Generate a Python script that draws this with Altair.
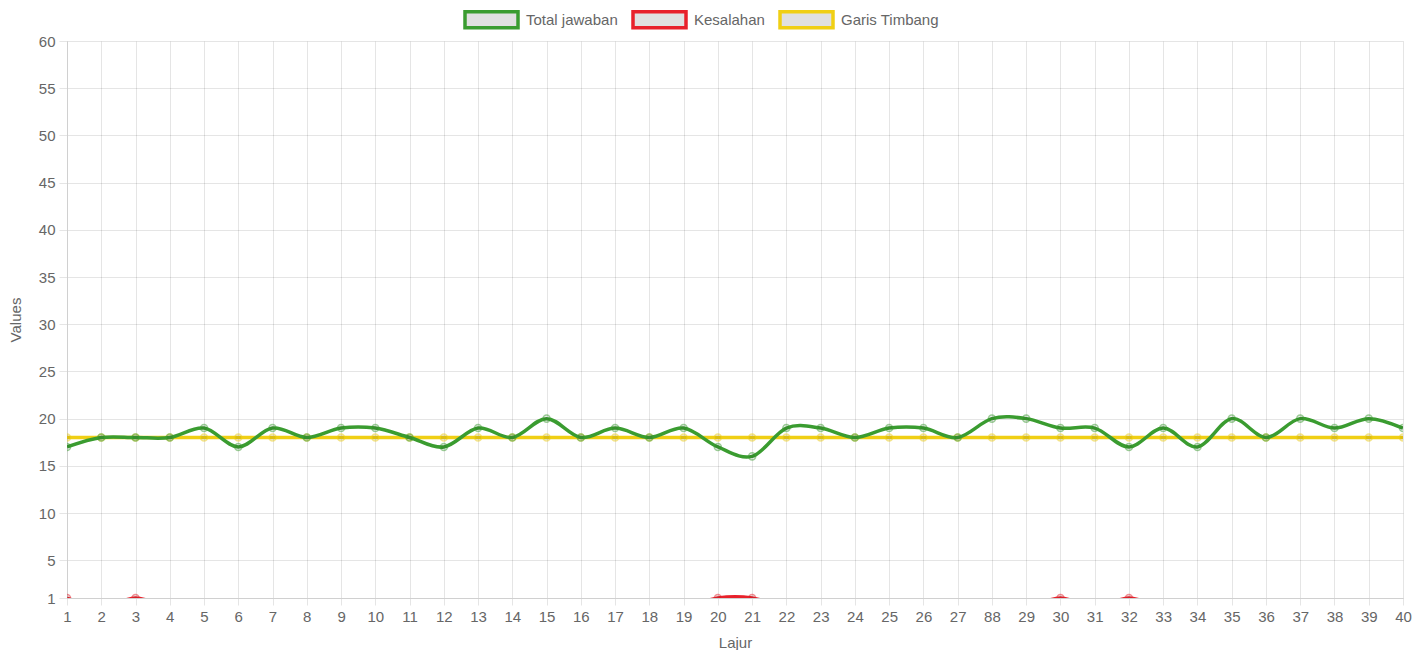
import altair as alt
import pandas as pd

labels = ["1", "2", "3", "4", "5", "6", "7", "8", "9", "10",
          "11", "12", "13", "14", "15", "16", "17", "18", "19", "20",
          "21", "22", "23", "24", "25", "26", "27", "88", "29", "30",
          "31", "32", "33", "34", "35", "36", "37", "38", "39", "40"]
total_jawaban = [17, 18, 18, 18, 19, 17, 19, 18, 19, 19,
                 18, 17, 19, 18, 20, 18, 19, 18, 19, 17,
                 16, 19, 19, 18, 19, 19, 18, 20, 20, 19,
                 19, 17, 19, 17, 20, 18, 20, 19, 20, 19]
kesalahan = [1, 0, 1, 0, 0, 0, 0, 0, 0, 0,
             0, 0, 0, 0, 0, 0, 0, 0, 0, 1,
             1, 0, 0, 0, 0, 0, 0, 0, 0, 1,
             0, 1, 0, 0, 0, 0, 0, 0, 0, 0]
garis_timbang = [18, 18, 18, 18, 18, 18, 18, 18, 18, 18,
                 18, 18, 18, 18, 18, 18, 18, 18, 18, 18,
                 18, 18, 18, 18, 18, 18, 18, 18, 18, 18,
                 18, 18, 18, 18, 18, 18, 18, 18, 18, 18]
y_ticks = [1, 5, 10, 15, 20, 25, 30, 35, 40, 45, 50, 55, 60]
series_names = ["Total jawaban", "Kesalahan", "Garis Timbang"]
series_colors = ["#3a9c30", "#e8212b", "#f0cf14"]

series_values = {"Total jawaban": total_jawaban, "Kesalahan": kesalahan, "Garis Timbang": garis_timbang}
rows = []
for name in series_names:
    for lab, v in zip(labels, series_values[name]):
        rows.append({"lajur": lab, "series": name, "value": v})
df = pd.DataFrame(rows)

FONT = "Liberation Sans"
GRID = "rgba(0,0,0,0.1)"

x = alt.X("lajur:N", sort=labels, scale=alt.Scale(type="point", padding=0),
          axis=alt.Axis(title="Lajur", labelAngle=0, labelFontSize=15, labelColor="#666", labelFont=FONT,
                        labelPadding=4, tickSize=7, tickColor=GRID, gridColor=GRID, grid=True,
                        domainColor="#d0d0d0", titleFont=FONT, titleFontSize=15, titleColor="#666",
                        titleFontWeight="normal", titleY=44, titleBaseline="middle", labelFlush=False,
                        labelOverlap=False))
y = alt.Y("value:Q", scale=alt.Scale(domain=[1, 60], nice=False, zero=False),
          axis=alt.Axis(title="Values", values=y_ticks, labelFontSize=15, labelColor="#666", labelFont=FONT,
                        labelPadding=4, tickSize=8, tickColor=GRID, gridColor=GRID, grid=True,
                        domainColor="#d0d0d0", titleFont=FONT, titleFontSize=15, titleColor="#666",
                        titleFontWeight="normal", titleX=-52, titleY=278.5, titleBaseline="middle",
                        titleAngle=270, labelOverlap=False))

color = alt.Color("series:N", scale=alt.Scale(domain=series_names, range=series_colors),
                  legend=alt.Legend(orient="none", legendX=396, legendY=-50, direction="horizontal",
                                    title=None, symbolType="M-1,-0.3H1V0.3H-1Z", symbolSize=2809,
                                    symbolStrokeWidth=3.5, symbolFillColor="#e0e0e0", symbolOpacity=1,
                                    labelFont=FONT, labelFontSize=15, labelColor="#666", labelOffset=6,
                                    columnPadding=8, padding=0))
stroke = alt.Stroke("series:N", scale=alt.Scale(domain=series_names, range=series_colors), legend=None)

layers = []
for name in ["Garis Timbang", "Kesalahan", "Total jawaban"]:
    base = alt.Chart(df).transform_filter(alt.datum.series == name)
    line = base.mark_line(interpolate="cardinal", strokeWidth=3.5, clip=True).encode(x=x, y=y, color=color)
    pts = base.mark_point(shape="circle", size=50, strokeWidth=1.5, strokeOpacity=0.7, clip=True).encode(
        x=x, y=y, stroke=stroke, fill=alt.value("rgba(0,0,0,0.1)"))
    layers += [line, pts]

chart = alt.layer(*layers).properties(
    width=1336, height=557,
    autosize=alt.AutoSizeParams(type="none"),
    padding={"left": 59, "top": 33, "right": 13, "bottom": 52},
).configure_view(stroke=None)

chart.save("out.html", embed_options={"renderer": "svg", "actions": False})
